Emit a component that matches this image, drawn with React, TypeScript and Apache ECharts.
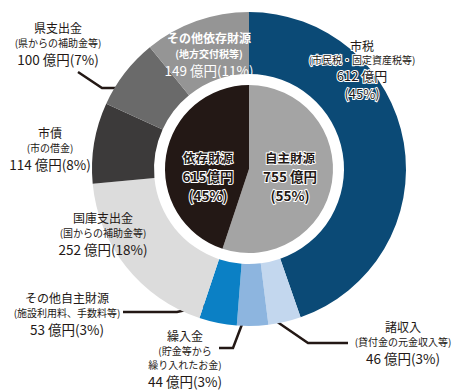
import React, { useEffect, useRef } from 'react';
import * as echarts from 'echarts';

// ---- data ----
const outerNames = ['市税', '諸収入', '繰入金', 'その他自主財源', '国庫支出金', '市債', '県支出金', 'その他依存財源'];
const outerNotes = [
  '(市民税・固定資産税等)',
  '(貸付金の元金収入等)',
  '(貯金等から\n繰り入れたお金)',
  '(施設利用料、手数料等)',
  '(国からの補助金等)',
  '(市の借金)',
  '(県からの補助金等)',
  '(地方交付税等)',
];
const outerValues = [612, 46, 44, 53, 252, 114, 100, 149];
const outerPercents = [45, 3, 3, 3, 18, 8, 7, 11];

const innerNames = ['自主財源', '依存財源'];
const innerValues = [755, 615];
const innerPercents = [55, 45];

// ---- styling / layout ----
const FONT = '"Noto Sans CJK JP", "Noto Sans", sans-serif';
const DARK = '#231815';
const outerColors = ['#0b4a76', '#c3d7ee', '#8db5df', '#0b80c5', '#dcdcdc', '#3c3a3a', '#6a6a6a', '#959595'];
const innerColors = ['#a4a4a4', '#231815'];
const CENTER = [249, 169];

const outerLabelPos = [
  [362, 70],
  [403, 342],
  [185, 358],
  [67, 313],
  [103, 233],
  [50, 148],
  [58, 43],
  [209, 54],
];
const outerGuides: (number[][] | null)[] = [
  null,
  [[273, 319], [308, 343], [348, 343]],
  [[244, 319], [233, 348], [219, 348]],
  [[217, 303], [177, 312], [123, 312]],
  null,
  null,
  [[126, 88], [102, 88], [78, 72]],
  null,
];
const innerLabelPos = [
  [290, 176],
  [208, 176],
];

const noteLines = (note: string, key: string) =>
  note.split('\n').map((l) => `{${key}|${l}}`).join('\n');

export default function App() {
  const ref = useRef<HTMLDivElement>(null);
  useEffect(() => {
    const chart = echarts.init(ref.current!, null, { renderer: 'svg' });

    const darkRich = {
      t: { fontSize: 12, lineHeight: 17, color: DARK, fontFamily: FONT },
      s: { fontSize: 10, lineHeight: 14, color: DARK, fontFamily: FONT },
      v: { fontSize: 13.5, lineHeight: 18, color: DARK, fontFamily: FONT },
    };
    const whiteRich = {
      t: { fontSize: 12, lineHeight: 16, color: '#fff', fontWeight: 'bold', fontFamily: FONT },
      s: { fontSize: 10, lineHeight: 15, color: '#fff', fontWeight: 'bold', fontFamily: FONT },
      v: { fontSize: 13.5, lineHeight: 18, color: '#fff', fontFamily: FONT },
    };
    const outlineBase = { color: DARK, textBorderColor: '#fff', textBorderWidth: 2, fontFamily: FONT };
    const outlineRich = {
      t: { ...outlineBase, fontSize: 12, lineHeight: 15.5 },
      s: { ...outlineBase, fontSize: 10, lineHeight: 14 },
      v: { ...outlineBase, fontSize: 13, lineHeight: 18 },
    };
    const innerRich = {
      t: { ...outlineBase, fontSize: 12.5, fontWeight: 'bold', lineHeight: 19 },
      v: { ...outlineBase, fontSize: 13.5, fontWeight: 'bold', lineHeight: 19 },
    };

    const outerData = outerNames.map((name, i) => {
      let formatter: string;
      let rich: any;
      if (i === 0) {
        formatter = `{t|${name}}\n${noteLines(outerNotes[i], 's')}\n{v|${outerValues[i]} 億円}\n{v|(${outerPercents[i]}%)}`;
        rich = outlineRich;
      } else if (i === 7) {
        formatter = `{t|${name}}\n${noteLines(outerNotes[i], 's')}\n{v|${outerValues[i]} 億円(${outerPercents[i]}%)}`;
        rich = whiteRich;
      } else {
        formatter = `{t|${name}}\n${noteLines(outerNotes[i], 's')}\n{v|${outerValues[i]} 億円(${outerPercents[i]}%)}`;
        rich = darkRich;
      }
      return {
        name,
        value: outerValues[i],
        itemStyle: { color: outerColors[i] },
        label: { formatter, rich },
        labelLine: { show: outerGuides[i] != null },
      };
    });

    const innerData = innerNames.map((name, i) => ({
      name,
      value: innerValues[i],
      itemStyle: { color: innerColors[i] },
      label: {
        formatter: `{t|${name}}\n{v|${innerValues[i]}${i === 0 ? ' ' : ''}億円}\n{v|(${innerPercents[i]}%)}`,
        rich: innerRich,
      },
    }));

    chart.setOption({
      animation: false,
      backgroundColor: '#fff',
      series: [
        {
          type: 'pie',
          silent: true,
          radius: [95, 157],
          center: CENTER,
          startAngle: 90,
          clockwise: true,
          avoidLabelOverlap: false,
          itemStyle: { borderWidth: 0 },
          label: { show: true, position: 'outside', fontFamily: FONT },
          labelLine: { show: true, lineStyle: { color: DARK, width: 2.5 } },
          labelLayout: (p: any) => ({
            x: outerLabelPos[p.dataIndex][0],
            y: outerLabelPos[p.dataIndex][1],
            align: 'center',
            verticalAlign: 'middle',
            labelLinePoints: outerGuides[p.dataIndex] || undefined,
          }),
          data: outerData,
        },
        {
          type: 'pie',
          silent: true,
          radius: [0, 84],
          center: CENTER,
          startAngle: 90,
          clockwise: true,
          avoidLabelOverlap: false,
          itemStyle: { borderWidth: 0 },
          label: { show: true, position: 'inside', fontFamily: FONT },
          labelLine: { show: false },
          labelLayout: (p: any) => ({
            x: innerLabelPos[p.dataIndex][0],
            y: innerLabelPos[p.dataIndex][1],
            align: 'center',
            verticalAlign: 'middle',
          }),
          data: innerData,
        },
      ],
    });
    return () => chart.dispose();
  }, []);
  return (
    <div
      ref={ref}
      style={{ position: 'absolute', left: 0, top: 0, width: 461, height: 392, background: '#fff' }}
    />
  );
}
